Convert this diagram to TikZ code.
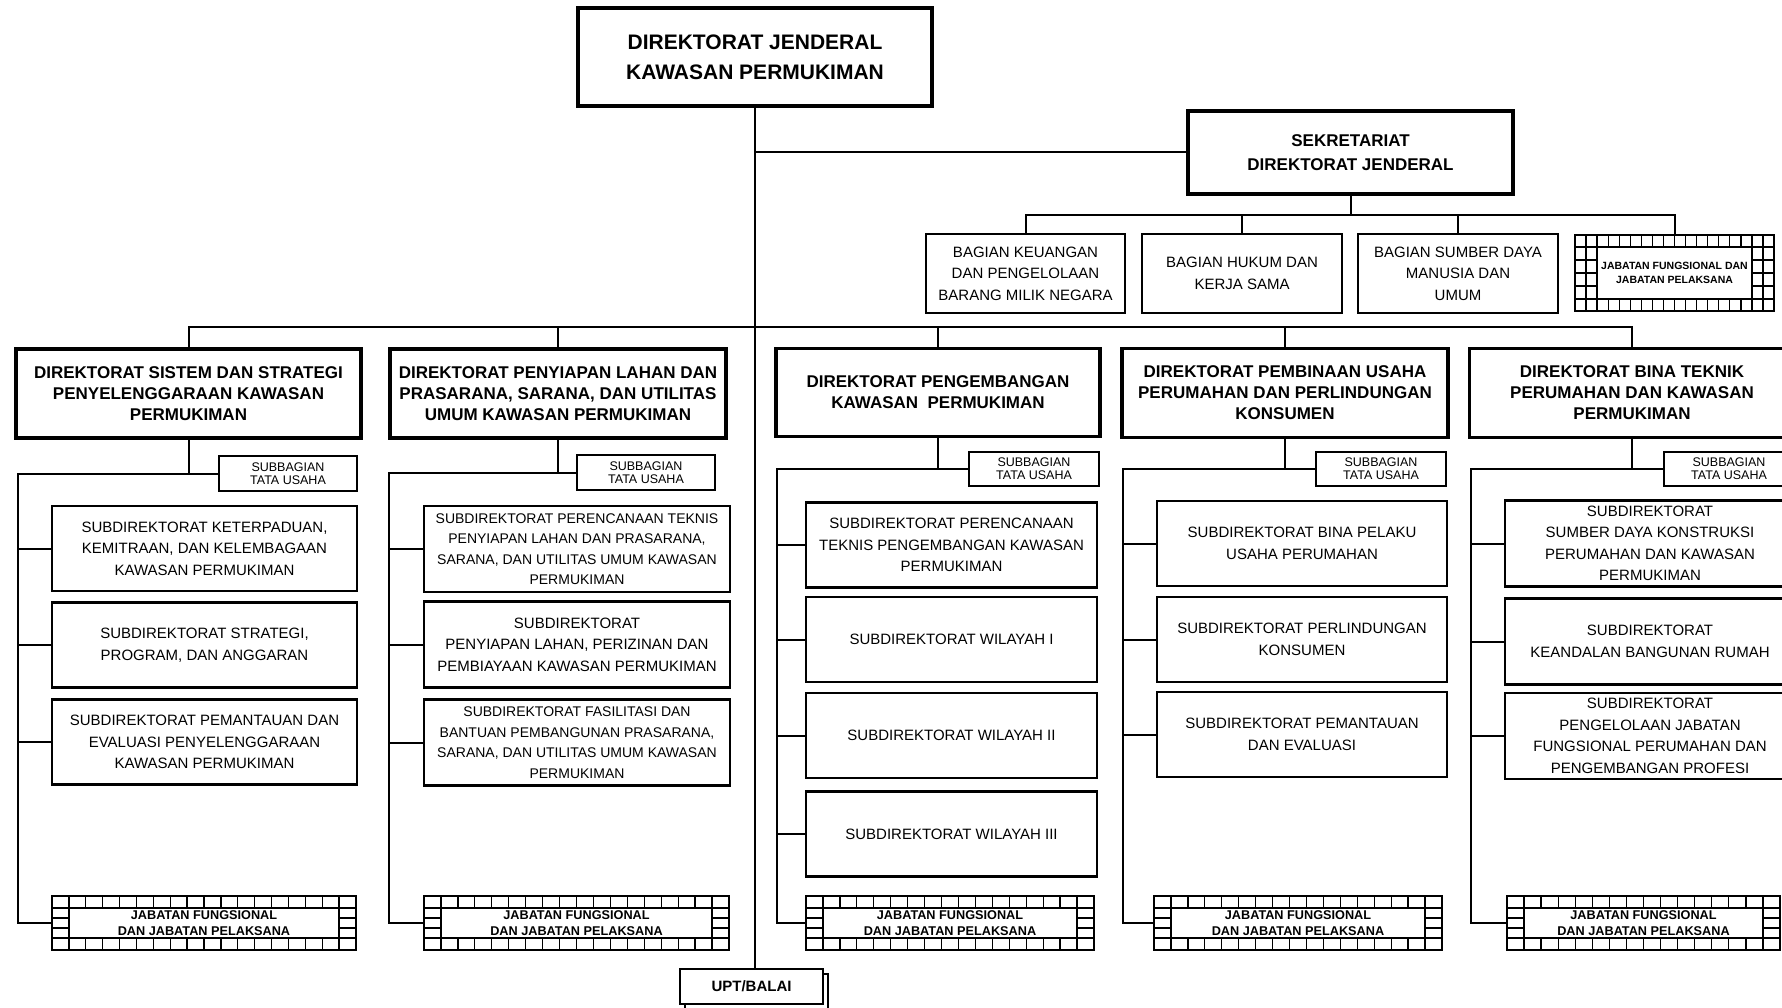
\documentclass[tikz,border=0pt]{standalone}
\usepackage{fontspec}
\setmainfont{Liberation Sans}
\usetikzlibrary{calc}

\tikzset{
  box/.style={draw, fill=white, inner sep=0pt, align=center},
  wh/.style 2 args={minimum width=#1pt, minimum height=#2pt},
  link/.style={line width=2pt},
  topbox/.style={box, line width=3.5pt, font=\fontsize{21}{30}\selectfont\bfseries},
  dirbox/.style={box, line width=3.5pt, font=\fontsize{17}{21}\selectfont\bfseries},
  sekbox/.style={box, line width=3.5pt, font=\fontsize{17}{24.5}\selectfont\bfseries},
  bagbox/.style={box, line width=2pt, font=\fontsize{15}{21.5}\selectfont},
  subbox/.style={box, line width=2.5pt, font=\fontsize{15}{21.5}\selectfont},
  subsmall/.style={subbox, font=\fontsize{14}{20.5}\selectfont},
  sbbox/.style={box, line width=2pt, font=\fontsize{12.5}{13}\selectfont},
  jabline/.style={line width=1.3pt},
  jabtext/.style={inner sep=0pt, align=center, font=\fontsize{12.7}{16}\selectfont\bfseries},
  jabsmall/.style={jabtext, font=\fontsize{10.5}{13.5}\selectfont\bfseries},
  uptbox/.style={box, line width=2pt, font=\fontsize{15}{18}\selectfont\bfseries},
}

% brick framed box: name, x1, y1, x2, y2, cells across, side columns, style, text
\newcommand{\jabatan}[9]{%
  \pgfmathsetmacro{\jcw}{(#4-#2)/#6}
  \pgfmathtruncatemacro{\jm}{#6-1}
  \pgfmathtruncatemacro{\jr}{#7+1}
  \pgfmathsetmacro{\jrh}{(#5-#3-24)/(#7+2)}
  \draw[jabline] (#2,#3) rectangle (#4,#5);
  \draw[jabline] (#2,#3+12) -- (#4,#3+12) (#2,#5-12) -- (#4,#5-12);
  \foreach \i in {1,...,\jm}
    \draw[jabline] (#2+\i*\jcw,#3) -- ++(0,12) (#2+\i*\jcw,#5) -- ++(0,-12);
  \foreach \k in {1,...,#7}
    \draw[jabline] (#2+\k*\jcw,#3+12) -- (#2+\k*\jcw,#5-12)
                   (#4-\k*\jcw,#3+12) -- (#4-\k*\jcw,#5-12);
  \foreach \k in {1,...,\jr}
    \draw[jabline] (#2,#3+12+\k*\jrh) -- ++(#7*\jcw,0)
                   (#4,#3+12+\k*\jrh) -- ++(-#7*\jcw,0);
  \node[#8, minimum width=(#4-#2)*1pt, minimum height=(#5-#3)*1pt]
    (#1) at ({(#2+#4)/2},{(#3+#5)/2}) {#9};
}

\begin{document}
\begin{tikzpicture}[x=1pt,y=-1pt]
  \clip (0,0) rectangle (1782,1008);

  \node[topbox, wh={354}{98}] (dirjen) at (755,57) {DIREKTORAT JENDERAL\\KAWASAN PERMUKIMAN};
  \node[sekbox, wh={325}{83}] (sekre) at (1350.5,152.5) {SEKRETARIAT\\DIREKTORAT JENDERAL};

  \node[bagbox, wh={199}{79}] (bag1) at (1025.5,273.5) {BAGIAN KEUANGAN\\DAN PENGELOLAAN\\BARANG MILIK NEGARA};
  \node[bagbox, wh={200}{79}] (bag2) at (1242,273.5) {BAGIAN HUKUM DAN\\KERJA SAMA};
  \node[bagbox, wh={200}{79}] (bag3) at (1458,273.5) {BAGIAN SUMBER DAYA\\MANUSIA DAN\\UMUM};
  \jabatan{jabsek}{1575}{235}{1774}{311}{18}{2}{jabsmall}{JABATAN FUNGSIONAL DAN\\JABATAN PELAKSANA}

  % direktorat
  \node[dirbox, wh={345}{89}] (d1) at (188.5,393.5) {DIREKTORAT SISTEM DAN STRATEGI\\PENYELENGGARAAN KAWASAN\\PERMUKIMAN};
  \node[dirbox, wh={336}{89}] (d2) at (558,393.5) {DIREKTORAT PENYIAPAN LAHAN DAN\\PRASARANA, SARANA, DAN UTILITAS\\UMUM KAWASAN PERMUKIMAN};
  \node[dirbox, wh={324}{88}] (d3) at (938,392.5) {DIREKTORAT PENGEMBANGAN\\KAWASAN\ \ PERMUKIMAN};
  \node[dirbox, wh={326}{89}] (d4) at (1285,393) {DIREKTORAT PEMBINAAN USAHA\\PERUMAHAN DAN PERLINDUNGAN\\KONSUMEN};
  \node[dirbox, wh={325}{89}] (d5) at (1632,393) {DIREKTORAT BINA TEKNIK\\PERUMAHAN DAN KAWASAN\\PERMUKIMAN};

  \node[sbbox, wh={138}{35}] (sb1) at (288,473.5) {SUBBAGIAN\\TATA USAHA};
  \node[sbbox, wh={138}{35}] (sb2) at (646,472.5) {SUBBAGIAN\\TATA USAHA};
  \node[sbbox, wh={130}{34}] (sb3) at (1034,469) {SUBBAGIAN\\TATA USAHA};
  \node[sbbox, wh={130}{34}] (sb4) at (1381,469) {SUBBAGIAN\\TATA USAHA};
  \node[sbbox, wh={130}{34}] (sb5) at (1729,469) {SUBBAGIAN\\TATA USAHA};

  % subdirektorat
  \node[subbox, wh={305}{85}] (s11) at (204.5,548.5) {SUBDIREKTORAT KETERPADUAN,\\KEMITRAAN, DAN KELEMBAGAAN\\KAWASAN PERMUKIMAN};
  \node[subbox, wh={305}{85}] (s12) at (204.5,645) {SUBDIREKTORAT STRATEGI,\\PROGRAM, DAN ANGGARAN};
  \node[subbox, wh={305}{85}] (s13) at (204.5,742) {SUBDIREKTORAT PEMANTAUAN DAN\\EVALUASI PENYELENGGARAAN\\KAWASAN PERMUKIMAN};

  \node[subsmall, wh={306}{86}] (s21) at (577,549) {SUBDIREKTORAT PERENCANAAN TEKNIS\\PENYIAPAN LAHAN DAN PRASARANA,\\SARANA, DAN UTILITAS UMUM KAWASAN\\PERMUKIMAN};
  \node[subbox, wh={306}{86}] (s22) at (577,644.5) {SUBDIREKTORAT\\PENYIAPAN LAHAN, PERIZINAN DAN\\PEMBIAYAAN KAWASAN PERMUKIMAN};
  \node[subsmall, wh={306}{86}] (s23) at (577,742.5) {SUBDIREKTORAT FASILITASI DAN\\BANTUAN PEMBANGUNAN PRASARANA,\\SARANA, DAN UTILITAS UMUM KAWASAN\\PERMUKIMAN};

  \node[subbox, wh={291}{85}] (s31) at (951.5,545) {SUBDIREKTORAT PERENCANAAN\\TEKNIS PENGEMBANGAN KAWASAN\\PERMUKIMAN};
  \node[subbox, wh={291}{85}] (s32) at (951.5,639.5) {SUBDIREKTORAT WILAYAH I};
  \node[subbox, wh={291}{85}] (s33) at (951.5,735.5) {SUBDIREKTORAT WILAYAH II};
  \node[subbox, wh={291}{85}] (s34) at (951.5,834) {SUBDIREKTORAT WILAYAH III};

  \node[subbox, wh={290}{85}] (s41) at (1302,543.5) {SUBDIREKTORAT BINA PELAKU\\USAHA PERUMAHAN};
  \node[subbox, wh={290}{85}] (s42) at (1302,639.5) {SUBDIREKTORAT PERLINDUNGAN\\KONSUMEN};
  \node[subbox, wh={290}{85}] (s43) at (1302,734.5) {SUBDIREKTORAT PEMANTAUAN\\DAN EVALUASI};

  \node[subbox, wh={290}{86}] (s51) at (1650,543.5) {SUBDIREKTORAT\\SUMBER DAYA KONSTRUKSI\\PERUMAHAN DAN KAWASAN\\PERMUKIMAN};
  \node[subbox, wh={290}{86}] (s52) at (1650,641.5) {SUBDIREKTORAT\\KEANDALAN BANGUNAN RUMAH};
  \node[subbox, wh={290}{86}] (s53) at (1650,736) {SUBDIREKTORAT\\PENGELOLAAN JABATAN\\FUNGSIONAL PERUMAHAN DAN\\PENGEMBANGAN PROFESI};

  \jabatan{j1}{52}{896}{356}{950}{18}{1}{jabtext}{JABATAN FUNGSIONAL\\DAN JABATAN PELAKSANA}
  \jabatan{j2}{424}{896}{729}{950}{18}{1}{jabtext}{JABATAN FUNGSIONAL\\DAN JABATAN PELAKSANA}
  \jabatan{j3}{806}{896}{1094}{950}{17}{1}{jabtext}{JABATAN FUNGSIONAL\\DAN JABATAN PELAKSANA}
  \jabatan{j4}{1154}{896}{1442}{950}{17}{1}{jabtext}{JABATAN FUNGSIONAL\\DAN JABATAN PELAKSANA}
  \jabatan{j5}{1507}{896}{1780}{950}{16}{1}{jabtext}{JABATAN FUNGSIONAL\\DAN JABATAN PELAKSANA}

  \draw[link, fill=white] (685,974) rectangle (828,1009);
  \node[uptbox, wh={143}{35}] (upt) at (751.5,986.5) {UPT/BALAI};

  % garis
  \coordinate (bus) at (755,327);
  \coordinate (sbus) at (1350.5,215);
  \draw[link] (dirjen.south) -- (dirjen.south |- upt.north);
  \draw[link] (dirjen.south |- sekre.west) -- (sekre.west);
  \draw[link] (d1.north) |- (bus) -| (d5.north);
  \foreach \d in {d2,d3,d4}
    \draw[link] (\d.north) -- (\d.north |- bus);
  \draw[link] (sekre.south) -- (sbus);
  \draw[link] (bag1.north) |- (sbus) -| (jabsek.north);
  \foreach \b in {bag2,bag3}
    \draw[link] (\b.north) -- (\b.north |- sbus);

  \coordinate (l1) at (18,923);
  \coordinate (l2) at (389,923);
  \coordinate (l3) at (777,923);
  \coordinate (l4) at (1123,923);
  \coordinate (l5) at (1471,923);
  \foreach \n in {1,...,5} {
    \draw[link] (d\n.south) -- (d\n.south |- sb\n.west);
    \draw[link] (sb\n.west) -| (l\n) -- (j\n.west);
  }
  \foreach \s in {s11,s12,s13}
    \draw[link] (l1 |- \s.west) -- (\s.west);
  \foreach \s in {s21,s22,s23}
    \draw[link] (l2 |- \s.west) -- (\s.west);
  \foreach \s in {s31,s32,s33,s34}
    \draw[link] (l3 |- \s.west) -- (\s.west);
  \foreach \s in {s41,s42,s43}
    \draw[link] (l4 |- \s.west) -- (\s.west);
  \foreach \s in {s51,s52,s53}
    \draw[link] (l5 |- \s.west) -- (\s.west);
\end{tikzpicture}
\end{document}
